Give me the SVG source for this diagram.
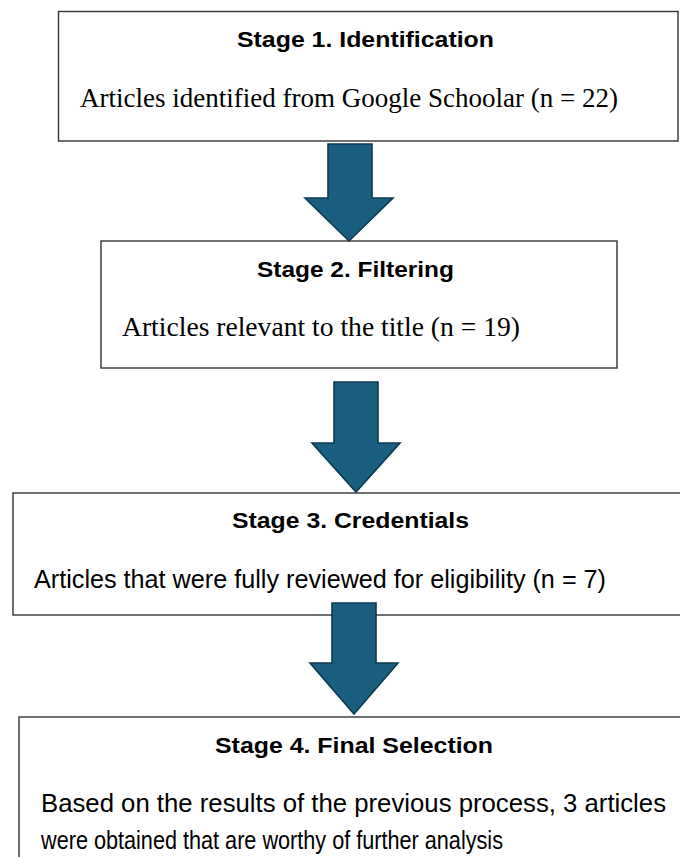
<svg xmlns="http://www.w3.org/2000/svg" width="680" height="857" viewBox="0 0 680 857">
<style>
.box{fill:#ffffff;stroke:#333333;stroke-width:1.4}
.title{font-family:"Liberation Sans",Arial,sans-serif;font-weight:bold;font-size:22px;fill:#000}
.serif{font-family:"Liberation Serif","Times New Roman",serif;font-size:27px;fill:#000}
.sans{font-family:"Liberation Sans",Arial,sans-serif;font-size:25px;fill:#000}
.arrow{fill:#1a5e80;stroke:#0c3a52;stroke-width:1.6;stroke-linejoin:miter}
</style>
<rect width="680" height="857" fill="#ffffff"/>
<g id="stage1">
<rect class="box" x="58.5" y="11.5" width="619.5" height="129.5"/>
<text class="title" x="237" y="47" textLength="257" lengthAdjust="spacingAndGlyphs">Stage 1. Identification</text>
<text class="serif" x="80" y="107" textLength="538" lengthAdjust="spacingAndGlyphs">Articles identified from Google Schoolar (n = 22)</text>
</g>
<g id="stage2">
<rect class="box" x="101" y="241" width="516" height="127"/>
<text class="title" x="257" y="277" textLength="197" lengthAdjust="spacingAndGlyphs">Stage 2. Filtering</text>
<text class="serif" x="122" y="336" textLength="398" lengthAdjust="spacingAndGlyphs">Articles relevant to the title (n = 19)</text>
</g>
<g id="stage3">
<rect class="box" x="13" y="493" width="680" height="122"/>
<text class="title" x="232" y="528" textLength="237" lengthAdjust="spacingAndGlyphs">Stage 3. Credentials</text>
<text class="sans" x="34" y="588" textLength="572" lengthAdjust="spacingAndGlyphs">Articles that were fully reviewed for eligibility (n = 7)</text>
</g>
<g id="stage4">
<rect class="box" x="19" y="717" width="680" height="160"/>
<text class="title" x="215" y="753" textLength="278" lengthAdjust="spacingAndGlyphs">Stage 4. Final Selection</text>
<text class="sans" x="41" y="812" textLength="625" lengthAdjust="spacingAndGlyphs">Based on the results of the previous process, 3 articles</text>
<text class="sans" x="41" y="849" textLength="462" lengthAdjust="spacingAndGlyphs">were obtained that are worthy of further analysis</text>
</g>
<g id="connectors">
<polygon class="arrow" points="328,144 372,144 372,198 393,198 349,241 305,198 328,198"/>
<polygon class="arrow" points="334,382 378,382 378,443 400,443 356,492 312,443 334,443"/>
<polygon class="arrow" points="332,603 376,603 376,663 398,663 354,714 310,663 332,663"/>
</g>
</svg>
